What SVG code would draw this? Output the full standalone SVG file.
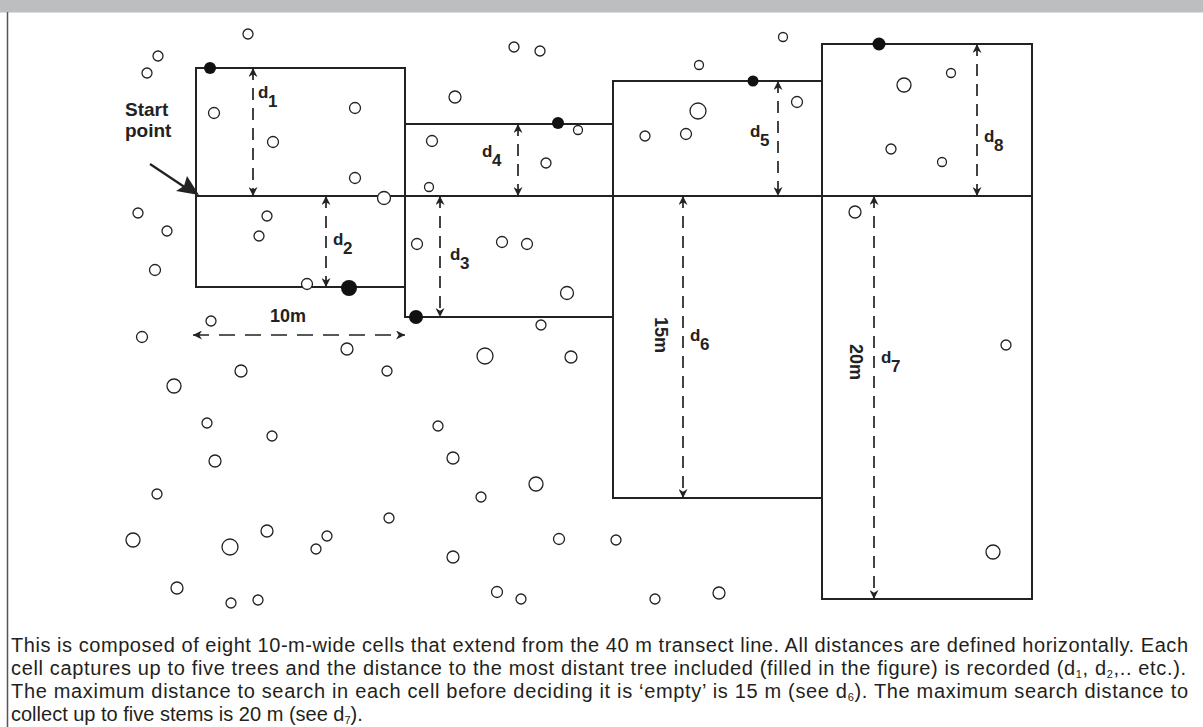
<svg xmlns="http://www.w3.org/2000/svg" width="1203" height="727" viewBox="0 0 1203 727">
<style>
.cell{fill:none;stroke:#222;stroke-width:2}
.tree{fill:#fff;stroke:#222;stroke-width:1.3}
.hit{fill:#111}
.dim{fill:none;stroke:#222;stroke-width:1.7;stroke-dasharray:12 8}
.lab{font-family:"Liberation Sans",Arial,sans-serif;font-weight:bold;fill:#222}
.d{font-size:17px}
.cap{font-family:"Liberation Sans",Arial,sans-serif;font-size:20px;fill:#231f20}
.sub{font-size:11px}
</style>
<defs>
<marker id="ah" viewBox="0 0 10 10" refX="10" refY="5" markerWidth="9" markerHeight="9" markerUnits="userSpaceOnUse" orient="auto-start-reverse">
<path d="M0,0 L10,5 L0,10 L3,5 z" fill="#222"/>
</marker>
</defs>
<rect x="0" y="0" width="1203" height="12.5" fill="#bdbec0"/>
<line x1="7.5" y1="12" x2="7.5" y2="727" stroke="#555" stroke-width="1.5"/>

<g id="cells">
<g id="cell1"><rect class="cell" x="196" y="68" width="209" height="128"/></g>
<g id="cell2"><rect class="cell" x="196" y="196" width="209" height="91"/></g>
<g id="cell3"><rect class="cell" x="405" y="196" width="208" height="121"/></g>
<g id="cell4"><rect class="cell" x="405" y="124" width="208" height="72"/></g>
<g id="cell5"><rect class="cell" x="613" y="81" width="209" height="115"/></g>
<g id="cell6"><rect class="cell" x="613" y="196" width="209" height="302"/></g>
<g id="cell7"><rect class="cell" x="822" y="196" width="210" height="403"/></g>
<g id="cell8"><rect class="cell" x="822" y="44" width="210" height="152"/></g>
<g id="transect"><line class="cell" x1="196" y1="196" x2="1032" y2="196"/></g>
</g>

<g id="trees">
<circle class="tree" cx="248" cy="34" r="5"/>
<circle class="tree" cx="158" cy="56" r="5"/>
<circle class="tree" cx="147" cy="73" r="5"/>
<circle class="tree" cx="214" cy="113" r="5.5"/>
<circle class="tree" cx="355" cy="108" r="5.5"/>
<circle class="tree" cx="273" cy="142" r="5.5"/>
<circle class="tree" cx="355" cy="178" r="5.5"/>
<circle class="tree" cx="384" cy="198" r="6.5"/>
<circle class="tree" cx="138" cy="213" r="5"/>
<circle class="tree" cx="167" cy="231" r="5"/>
<circle class="tree" cx="267" cy="216" r="5"/>
<circle class="tree" cx="259" cy="236" r="5"/>
<circle class="tree" cx="155" cy="270" r="5.5"/>
<circle class="tree" cx="307" cy="284" r="5.5"/>
<circle class="tree" cx="514" cy="47" r="5"/>
<circle class="tree" cx="540" cy="51" r="5"/>
<circle class="tree" cx="455" cy="97" r="6"/>
<circle class="tree" cx="432" cy="141" r="5.5"/>
<circle class="tree" cx="578" cy="130" r="4.5"/>
<circle class="tree" cx="546" cy="163" r="5"/>
<circle class="tree" cx="429" cy="187" r="4.5"/>
<circle class="tree" cx="417" cy="244" r="5.5"/>
<circle class="tree" cx="502" cy="242" r="5.5"/>
<circle class="tree" cx="527" cy="244" r="5.5"/>
<circle class="tree" cx="567" cy="293" r="6.5"/>
<circle class="tree" cx="541" cy="325" r="5"/>
<circle class="tree" cx="783" cy="37" r="4.5"/>
<circle class="tree" cx="699" cy="65" r="4.5"/>
<circle class="tree" cx="698" cy="111" r="8"/>
<circle class="tree" cx="645" cy="136" r="5"/>
<circle class="tree" cx="686" cy="134" r="5.5"/>
<circle class="tree" cx="797" cy="102" r="5.5"/>
<circle class="tree" cx="904" cy="85" r="7"/>
<circle class="tree" cx="951" cy="73" r="4.5"/>
<circle class="tree" cx="891" cy="149" r="5"/>
<circle class="tree" cx="942" cy="162" r="4.5"/>
<circle class="tree" cx="855" cy="212" r="6"/>
<circle class="tree" cx="142" cy="337" r="5.5"/>
<circle class="tree" cx="211" cy="321" r="5"/>
<circle class="tree" cx="347" cy="349" r="6"/>
<circle class="tree" cx="241" cy="371" r="6"/>
<circle class="tree" cx="387" cy="371" r="5"/>
<circle class="tree" cx="174" cy="386" r="7"/>
<circle class="tree" cx="207" cy="423" r="5"/>
<circle class="tree" cx="272" cy="436" r="5"/>
<circle class="tree" cx="215" cy="461" r="6"/>
<circle class="tree" cx="438" cy="426" r="5"/>
<circle class="tree" cx="157" cy="494" r="5"/>
<circle class="tree" cx="389" cy="518" r="5"/>
<circle class="tree" cx="133" cy="540" r="7"/>
<circle class="tree" cx="230" cy="547" r="8"/>
<circle class="tree" cx="267" cy="531" r="6"/>
<circle class="tree" cx="327" cy="536" r="5"/>
<circle class="tree" cx="316" cy="549" r="5"/>
<circle class="tree" cx="177" cy="588" r="6"/>
<circle class="tree" cx="231" cy="603" r="5"/>
<circle class="tree" cx="258" cy="600" r="5"/>
<circle class="tree" cx="485" cy="356" r="8"/>
<circle class="tree" cx="571" cy="357" r="6"/>
<circle class="tree" cx="453" cy="458" r="6"/>
<circle class="tree" cx="481" cy="497" r="5"/>
<circle class="tree" cx="536" cy="484" r="7"/>
<circle class="tree" cx="453" cy="557" r="6"/>
<circle class="tree" cx="559" cy="539" r="5.5"/>
<circle class="tree" cx="616" cy="540" r="5"/>
<circle class="tree" cx="497" cy="592" r="5.5"/>
<circle class="tree" cx="521" cy="599" r="5"/>
<circle class="tree" cx="655" cy="599" r="5"/>
<circle class="tree" cx="719" cy="593" r="6"/>
<circle class="tree" cx="1006" cy="345" r="5"/>
<circle class="tree" cx="993" cy="552" r="7"/>
</g>

<g id="recorded-trees">
<circle class="hit" cx="210" cy="68" r="6"/>
<circle class="hit" cx="349" cy="288" r="8"/>
<circle class="hit" cx="416" cy="317" r="7"/>
<circle class="hit" cx="558" cy="123" r="6"/>
<circle class="hit" cx="753" cy="81" r="5.5"/>
<circle class="hit" cx="879" cy="44" r="6.5"/>
</g>

<g id="connectors">
<line class="dim" x1="253" y1="68" x2="253" y2="196" marker-start="url(#ah)" marker-end="url(#ah)"/>
<line class="dim" x1="326" y1="196" x2="326" y2="287" marker-start="url(#ah)" marker-end="url(#ah)"/>
<line class="dim" x1="440" y1="196" x2="440" y2="317" marker-start="url(#ah)" marker-end="url(#ah)"/>
<line class="dim" x1="518" y1="124" x2="518" y2="196" marker-start="url(#ah)" marker-end="url(#ah)"/>
<line class="dim" x1="778" y1="81" x2="778" y2="196" marker-start="url(#ah)" marker-end="url(#ah)"/>
<line class="dim" x1="683" y1="196" x2="683" y2="498" marker-start="url(#ah)" marker-end="url(#ah)"/>
<line class="dim" x1="874" y1="196" x2="874" y2="599" marker-start="url(#ah)" marker-end="url(#ah)"/>
<line class="dim" x1="977" y1="44" x2="977" y2="196" marker-start="url(#ah)" marker-end="url(#ah)"/>
<line class="dim" style="stroke-dasharray:16 10" x1="193" y1="335" x2="405" y2="335" marker-start="url(#ah)" marker-end="url(#ah)"/>
<line x1="150" y1="164" x2="186" y2="188" stroke="#222" stroke-width="2.2"/>
<path d="M199,195 L176,191 L184,186 L187,176 z" fill="#222"/>
</g>

<g id="labels">
<text class="lab" x="125" y="116" font-size="19">Start</text>
<text class="lab" x="125" y="137" font-size="19">point</text>
<text class="lab" x="288" y="321.5" font-size="18" text-anchor="middle">10m</text>
<text class="lab" font-size="18" text-anchor="middle" transform="translate(661,335) rotate(90)" y="6.5">15m</text>
<text class="lab" font-size="18" text-anchor="middle" transform="translate(856,362) rotate(90)" y="6.5">20m</text>
<text class="lab d" x="258" y="98">d<tspan x="268" y="107">1</tspan></text>
<text class="lab d" x="333" y="245">d<tspan x="343" y="254">2</tspan></text>
<text class="lab d" x="450" y="260">d<tspan x="460" y="269">3</tspan></text>
<text class="lab d" x="482" y="157">d<tspan x="492" y="166">4</tspan></text>
<text class="lab d" x="750" y="137">d<tspan x="760" y="146">5</tspan></text>
<text class="lab d" x="690" y="341">d<tspan x="700" y="350">6</tspan></text>
<text class="lab d" x="881" y="363">d<tspan x="891" y="372">7</tspan></text>
<text class="lab d" x="984" y="142">d<tspan x="994" y="151">8</tspan></text>
</g>

<g id="caption">
<text class="cap" x="11" y="652" textLength="1177" lengthAdjust="spacing">This is composed of eight 10-m-wide cells that extend from the 40 m transect line. All distances are defined horizontally.  Each</text>
<text class="cap" x="11" y="675" textLength="1175" lengthAdjust="spacing">cell captures up to five trees and the distance to the most distant tree included (filled in the figure) is recorded (d<tspan class="sub" dy="2.5">1</tspan><tspan dy="-2.5">, d</tspan><tspan class="sub" dy="2.5">2</tspan><tspan dy="-2.5">,..  etc.).</tspan></text>
<text class="cap" x="11" y="698" textLength="1177" lengthAdjust="spacing">The maximum distance to search in each cell before deciding it is ‘empty’ is 15 m (see d<tspan class="sub" dy="2.5">6</tspan><tspan dy="-2.5">).  The maximum search distance to</tspan></text>
<text class="cap" x="11" y="721">collect up to five stems is 20 m (see d<tspan class="sub" dy="2.5">7</tspan><tspan dy="-2.5">).</tspan></text>
</g>
</svg>
